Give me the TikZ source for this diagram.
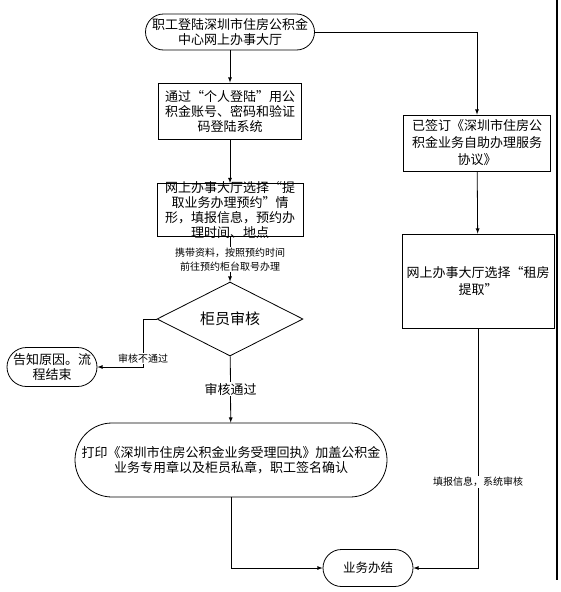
\documentclass[tikz,border=0pt]{standalone}
\usepackage{fontspec}
\setmainfont{Noto Sans CJK SC}
\usetikzlibrary{shapes.geometric}
\begin{document}
\begin{tikzpicture}[>=latex,x=1pt,y=-1pt,line width=.8pt,
  box/.style={draw,align=center,font=\fontsize{13}{15}\selectfont,inner sep=2pt},
  pill/.style={draw,align=center,font=\fontsize{13}{15}\selectfont,inner sep=2pt},
  tag/.style={fill=white,align=center,font=\fontsize{10}{14}\selectfont,inner sep=1pt}]
\useasboundingbox (0,0) rectangle (560,592);
% left column
\node[pill,minimum width=169,minimum height=36,rounded corners=18pt] (login) at (230,32)
  {职工登陆深圳市住房公积金\\中心网上办事大厅};
\node[box,minimum width=143,minimum height=56] (check) at (230,111)
  {通过“个人登陆”用公\\积金账号、密码和验证\\码登陆系统};
\node[box,minimum width=146,inner ysep=-2pt] (pick) at (230,210)
  {网上办事大厅选择“提\\取业务办理预约”情\\形，填报信息，预约办\\理时间、地点};
\node[draw,diamond,minimum width=146,minimum height=55,inner sep=0pt,
  font=\fontsize{15}{17}\selectfont] (audit) at (230,319) {柜员审核};
\node[pill,minimum width=90,minimum height=39,rounded corners=19.5pt] (stop) at (52,367)
  {告知原因。流\\程结束};
\node[pill,minimum width=312,minimum height=74,rounded corners=37pt] (print) at (231,460)
  {打印《深圳市住房公积金业务受理回执》加盖公积金\\业务专用章以及柜员私章，职工签名确认};
\node[pill,minimum width=90,minimum height=37,rounded corners=18.5pt,
  font=\fontsize{12.5}{15}\selectfont] (done) at (368,568) {业务办结};
% right column
\node[box,minimum width=147,minimum height=56,font=\fontsize{13}{17}\selectfont] (sign) at (477,143)
  {已签订《深圳市住房公\\积金业务自助办理服务\\协议》};
\node[box,minimum width=152,minimum height=94,font=\fontsize{13}{17}\selectfont] (rent) at (478,281)
  {网上办事大厅选择“租房\\提取”};
\coordinate (turn) at (143,319);

\draw[->](login)--(check);
\draw[->](check)--(pick);
\draw[->](pick)--node[tag]{携带资料，按照预约时间\\前往预约柜台取号办理}(audit);
\draw[->](audit.west)--(turn)|-node[tag,pos=.41]{审核不通过}(stop);
\draw[->](audit)--node[tag,font=\fontsize{13}{15}\selectfont]{审核通过}(print);
\draw[->](print)|-(done);
\draw[->](login)-|(sign);
\draw[->](sign)--(rent);
\draw[->](rent)|-node[tag,pos=.32]{填报信息，系统审核}(done);

\draw[line width=1.5pt](557,0)--(557,580);
\end{tikzpicture}
\end{document}
